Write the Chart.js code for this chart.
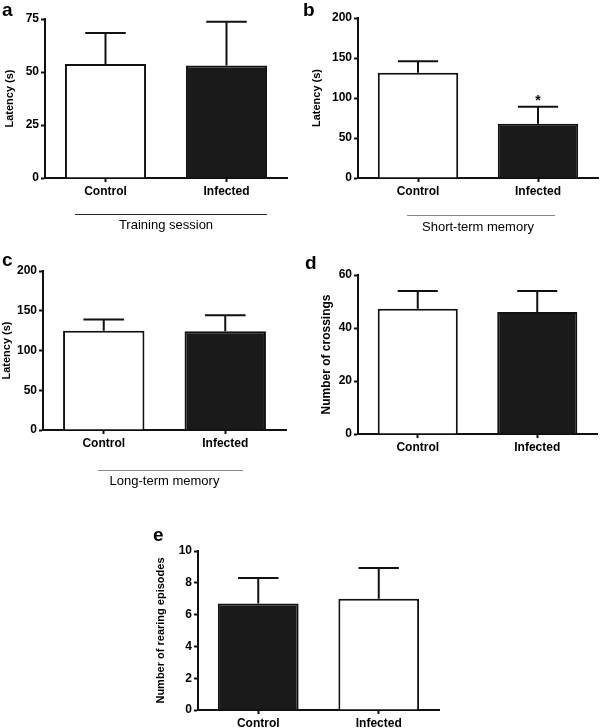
<!DOCTYPE html>
<html>
<head>
<meta charset="utf-8">
<script src="https://cdn.jsdelivr.net/npm/chart.js@4.4.1/dist/chart.umd.min.js"></script>
<style>
  body { margin: 0; background: #fff; }
  #page { position: relative; width: 600px; height: 728px; overflow: hidden; }
  .box { position: absolute; }
  .letter { position: absolute; font: bold 19px "Liberation Sans", Arial, sans-serif; line-height: 1; color: #000; }
</style>
</head>
<body>
<div id="page">
  <div class="box" style="left:0;top:0"><canvas id="chartA" width="295" height="235"></canvas></div>
  <div class="box" style="left:300px;top:0"><canvas id="chartB" width="300" height="237"></canvas></div>
  <div class="box" style="left:0;top:250px"><canvas id="chartC" width="295" height="241"></canvas></div>
  <div class="box" style="left:300px;top:250px"><canvas id="chartD" width="300" height="220"></canvas></div>
  <div class="box" style="left:140px;top:480px"><canvas id="chartE" width="310" height="248"></canvas></div>
  <div class="letter" style="left:2px;top:0">a</div>
  <div class="letter" style="left:303px;top:0">b</div>
  <div class="letter" style="left:2px;top:250px">c</div>
  <div class="letter" style="left:305px;top:253px">d</div>
  <div class="letter" style="left:153px;top:525px">e</div>
</div>
<script>
const groups = ['Control', 'Infected'];

// means and top of error bar (mean + SEM)
const trainingMean = [53.8, 53.1];
const trainingTop = [68.4, 73.7];
const shortMean = [131.6, 67.9];
const shortTop = [145.8, 89.1];
const shortSig = ['', '*'];
const longMean = [124.7, 124.2];
const longTop = [139.0, 144.4];
const crossMean = [47.3, 46.0];
const crossTop = [54.0, 54.0];
const rearMean = [6.7, 7.0];
const rearTop = [8.3, 8.93];

const FONT = '"Liberation Sans", Arial, sans-serif';
const INK = '#111';
const WHITE_BLACK = ['#ffffff', '#1a1a1a'];
const BLACK_WHITE = ['#1a1a1a', '#ffffff'];

const errorBars = {
  id: 'errorBars',
  afterDatasetsDraw(chart, args, opts) {
    const meta = chart.getDatasetMeta(0);
    const y = chart.scales.y;
    const ctx = chart.ctx;
    ctx.save();
    ctx.strokeStyle = INK;
    ctx.lineWidth = 2;
    meta.data.forEach((bar, i) => {
      const top = y.getPixelForValue(opts.tops[i]);
      const half = bar.width / 4;
      ctx.beginPath();
      ctx.moveTo(bar.x, bar.y);
      ctx.lineTo(bar.x, top);
      ctx.moveTo(bar.x - half, top);
      ctx.lineTo(bar.x + half, top);
      ctx.stroke();
      if (opts.marks && opts.marks[i]) {
        ctx.fillStyle = '#000';
        ctx.font = 'bold 14px ' + FONT;
        ctx.textAlign = 'center';
        ctx.textBaseline = 'alphabetic';
        ctx.fillText(opts.marks[i], bar.x, top - 2);
      }
    });
    ctx.restore();
  }
};

// horizontal line above the x axis title
const bracket = {
  id: 'bracket',
  afterDraw(chart, args, opts) {
    if (!opts.show) return;
    const a = chart.chartArea;
    const w = a.right - a.left;
    const ctx = chart.ctx;
    const yy = Math.round(a.bottom + opts.offset) + 0.5;
    ctx.save();
    ctx.strokeStyle = opts.color;
    ctx.lineWidth = 1.2;
    ctx.beginPath();
    ctx.moveTo(a.left + opts.from * w, yy);
    ctx.lineTo(a.left + opts.to * w, yy);
    ctx.stroke();
    ctx.restore();
  }
};

function makeChart(id, c) {
  return new Chart(document.getElementById(id), {
    type: 'bar',
    data: {
      labels: groups,
      datasets: [{
        data: c.means,
        backgroundColor: c.fills,
        borderColor: INK,
        borderWidth: 2,
        barPercentage: 0.67,
        categoryPercentage: 1
      }]
    },
    plugins: [errorBars, bracket],
    options: {
      responsive: false,
      animation: false,
      devicePixelRatio: 1,
      layout: { padding: { top: c.padTop, right: c.padRight, left: 0, bottom: 0 } },
      plugins: {
        legend: { display: false },
        tooltip: { enabled: false },
        errorBars: { tops: c.tops, marks: c.marks },
        bracket: c.bracket || { show: false }
      },
      scales: {
        x: {
          offset: true,
          ticks: { color: '#000', font: { family: FONT, size: 12, weight: 'bold' }, padding: 2 },
          grid: { drawOnChartArea: false, drawTicks: true, tickLength: 4, tickColor: INK, tickWidth: 2, offset: false },
          border: { display: true, color: INK, width: 2 },
          title: {
            display: !!c.xTitle,
            text: c.xTitle || '',
            color: '#000',
            font: { family: FONT, size: 13, weight: 'normal' },
            padding: { top: 0, bottom: 2 }
          },
          afterFit: s => { s.height = c.xHeight; }
        },
        y: {
          min: 0,
          max: c.max,
          ticks: { stepSize: c.step, color: '#000', font: { family: FONT, size: 12, weight: 'bold' }, padding: 2 },
          grid: { drawOnChartArea: false, drawTicks: true, tickLength: 4, tickColor: INK, tickWidth: 2 },
          border: { display: true, color: INK, width: 2 },
          title: {
            display: true,
            text: c.yTitle,
            color: '#000',
            font: { family: FONT, size: c.yTitleSize || 11, weight: 'bold' },
            padding: { top: c.yTitlePad, bottom: 0 }
          },
          afterFit: s => { s.width = c.yWidth; }
        }
      }
    }
  });
}

makeChart('chartA', {
  means: trainingMean, tops: trainingTop, fills: WHITE_BLACK,
  max: 75, step: 25, yTitle: 'Latency (s)', yTitlePad: 3.5,
  xTitle: 'Training session',
  bracket: { show: true, offset: 36, from: 0.124, to: 0.917, color: '#222' },
  padTop: 19, padRight: 8, yWidth: 45, xHeight: 57
});

makeChart('chartB', {
  means: shortMean, tops: shortTop, marks: shortSig, fills: WHITE_BLACK,
  max: 200, step: 50, yTitle: 'Latency (s)', yTitlePad: 10.5,
  xTitle: 'Short-term memory',
  bracket: { show: true, offset: 37, from: 0.204, to: 0.821, color: '#888' },
  padTop: 18, padRight: 2, yWidth: 58, xHeight: 59
});

makeChart('chartC', {
  means: longMean, tops: longTop, fills: WHITE_BLACK,
  max: 200, step: 50, yTitle: 'Latency (s)', yTitlePad: 0.5,
  xTitle: 'Long-term memory',
  bracket: { show: true, offset: 40, from: 0.226, to: 0.823, color: '#888' },
  padTop: 21, padRight: 9, yWidth: 43, xHeight: 61
});

makeChart('chartD', {
  means: crossMean, tops: crossTop, fills: WHITE_BLACK,
  max: 60, step: 20, yTitle: 'Number of crossings', yTitlePad: 19, yTitleSize: 12,
  padTop: 25, padRight: 3, yWidth: 58, xHeight: 36
});

makeChart('chartE', {
  means: rearMean, tops: rearTop, fills: BLACK_WHITE,
  max: 10, step: 2, yTitle: 'Number of rearing episodes', yTitlePad: 14.5,
  padTop: 71, padRight: 11, yWidth: 58, xHeight: 18
});
</script>
</body>
</html>
